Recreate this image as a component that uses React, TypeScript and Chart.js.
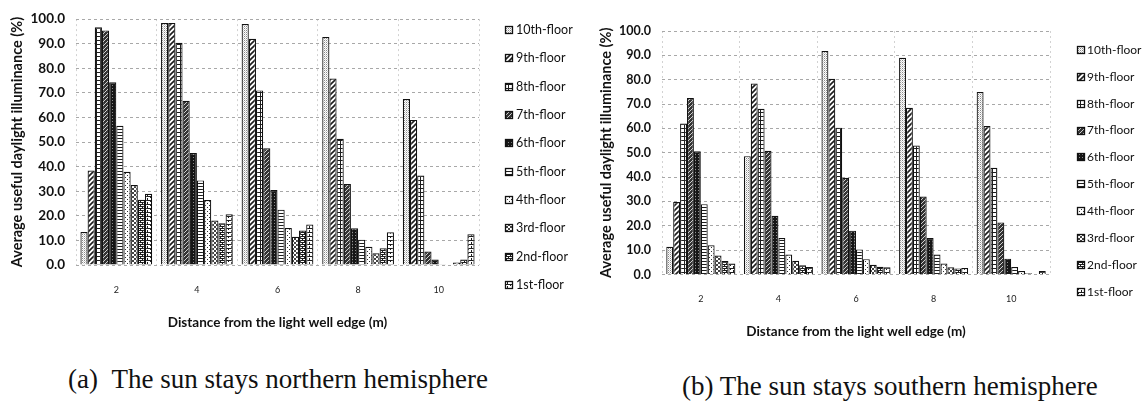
import React, { useEffect, useRef } from "react";
import { Chart, registerables } from "chart.js";

Chart.register(...registerables);

const distances = ["2", "4", "6", "8", "10"];
const floorLabels = [
  "10th-floor", "9th-floor", "8th-floor", "7th-floor", "6th-floor",
  "5th-floor", "4th-floor", "3rd-floor", "2nd-floor", "1st-floor",
];
const yAxisTitle = "Average useful daylight illuminance (%)";
const xAxisTitle = "Distance from the light well edge (m)";
const captionNorth = "(a)\u00a0\u00a0The sun stays northern hemisphere";
const captionSouth = "(b) The sun stays southern hemisphere";

// (a) northern hemisphere, per floor across distances 2,4,6,8,10 m
const north10th = [13.4, 98.4, 98, 92.7, 67.5];
const north9th = [38.4, 98.4, 92, 75.8, 59];
const north8th = [96.7, 90.4, 71, 51.3, 36.4];
const north7th = [95.4, 66.8, 47.5, 32.9, 5.5];
const north6th = [74.3, 45.5, 30.5, 14.9, 2.2];
const north5th = [56.6, 34.4, 22.5, 10.3, 0.3];
const north4th = [37.9, 26.4, 15, 7.4, 0.2];
const north3rd = [32.5, 18.1, 11.5, 4.8, 1];
const north2nd = [26.5, 17, 14, 6.8, 2.2];
const north1st = [29, 20.6, 16.5, 13.3, 12.5];

// (b) southern hemisphere
const south10th = [11.4, 48.6, 91.8, 89, 74.9];
const south9th = [29.8, 78.4, 80.4, 68.5, 61];
const south8th = [62, 68.1, 60.3, 53, 43.8];
const south7th = [72.5, 50.8, 39.7, 32, 21.4];
const south6th = [50.6, 24.1, 18, 15, 6.5];
const south5th = [28.9, 15, 10.3, 8.2, 3.1];
const south4th = [12, 8.2, 6.3, 4.5, 1.4];
const south3rd = [7.8, 5.6, 4, 3, 0.5];
const south2nd = [5.5, 3.8, 3.2, 2.5, 0.2];
const south1st = [4.5, 3.1, 3, 2.7, 1.4];

const northSeries = [north10th, north9th, north8th, north7th, north6th, north5th, north4th, north3rd, north2nd, north1st];
const southSeries = [south10th, south9th, south8th, south7th, south6th, south5th, south4th, south3rd, south2nd, south1st];

function makePattern(w: number, h: number, draw: (g: CanvasRenderingContext2D) => void) {
  const c = document.createElement("canvas");
  c.width = w;
  c.height = h;
  const g = c.getContext("2d")!;
  g.fillStyle = "#fff";
  g.fillRect(0, 0, w, h);
  g.fillStyle = "#1e1e1e";
  g.strokeStyle = "#1e1e1e";
  draw(g);
  return g.createPattern(c, "repeat");
}

function buildPatterns() {
  return [
    // 10th: light stipple
    makePattern(2, 2, (g) => {
      g.fillStyle = "#8a8a8a";
      g.fillRect(0, 0, 1, 1);
      g.fillStyle = "#d0d0d0";
      g.fillRect(1, 1, 1, 1);
    }),
    // 9th: diagonal hatch
    makePattern(5, 5, (g) => {
      g.lineWidth = 1.6;
      g.beginPath();
      g.moveTo(-1, 6); g.lineTo(6, -1);
      g.moveTo(-1, 1); g.lineTo(1, -1);
      g.moveTo(4, 6); g.lineTo(6, 4);
      g.stroke();
    }),
    // 8th: fine grid
    makePattern(4, 4, (g) => {
      g.fillRect(0, 0, 4, 1);
      g.fillRect(0, 0, 1, 4);
    }),
    // 7th: dark textured
    makePattern(4, 4, (g) => {
      g.fillStyle = "#333";
      g.fillRect(0, 0, 4, 4);
      g.fillStyle = "#cfcfcf";
      g.fillRect(0, 0, 1, 1);
      g.fillRect(2, 2, 1, 1);
      g.fillRect(1, 3, 1, 1);
      g.fillRect(3, 1, 1, 1);
    }),
    // 6th: very dark
    makePattern(3, 3, (g) => {
      g.fillStyle = "#161616";
      g.fillRect(0, 0, 3, 3);
      g.fillStyle = "#8a8a8a";
      g.fillRect(1, 1, 1, 1);
    }),
    // 5th: horizontal lines
    makePattern(4, 3, (g) => {
      g.fillRect(0, 0, 4, 1);
    }),
    // 4th: sparse dots
    makePattern(4, 4, (g) => {
      g.fillStyle = "#333";
      g.fillRect(1, 1, 1, 1);
      g.fillRect(3, 3, 1, 1);
    }),
    // 3rd: checker
    makePattern(4, 4, (g) => {
      g.fillStyle = "#444";
      g.fillRect(0, 0, 2, 2);
      g.fillRect(2, 2, 2, 2);
    }),
    // 2nd: small bricks
    makePattern(4, 4, (g) => {
      g.fillRect(0, 0, 4, 1);
      g.fillRect(0, 2, 4, 1);
      g.fillRect(0, 1, 1, 1);
      g.fillRect(2, 3, 1, 1);
    }),
    // 1st: bricks with dots
    makePattern(6, 4, (g) => {
      g.fillRect(0, 0, 6, 1);
      g.fillRect(0, 1, 1, 1);
      g.fillRect(3, 3, 1, 1);
      g.fillRect(3, 2, 1, 1);
    }),
  ];
}

const floorLegend = {
  id: "floorLegend",
  afterDraw(chart: any, _args: any, opts: any) {
    const ctx = chart.ctx as CanvasRenderingContext2D;
    ctx.save();
    ctx.font = `${opts.fontSize}px Lato`;
    ctx.textBaseline = "middle";
    ctx.textAlign = "left";
    chart.data.datasets.forEach((ds: any, i: number) => {
      const y = opts.top + i * opts.spacing;
      const by = Math.round(y - opts.box / 2);
      ctx.fillStyle = ds.backgroundColor;
      ctx.fillRect(opts.boxX, by, opts.box, opts.box);
      ctx.strokeStyle = "#111";
      ctx.lineWidth = 1.3;
      ctx.strokeRect(opts.boxX + 0.5, by + 0.5, opts.box - 1, opts.box - 1);
      ctx.fillStyle = "#111";
      ctx.fillText(ds.label, opts.textX, y);
    });
    ctx.restore();
  },
};

type PanelProps = {
  series: number[][];
  left: number;
  width: number;
  height: number;
  pad: { left: number; top: number; right: number };
  yWidth: number;
  xHeight: number;
  yTickPad: number;
  yTickSize: number;
  xTickPad: number;
  xTitlePad: number;
  legend: { top: number; spacing: number; boxX: number; textX: number; box: number; fontSize: number };
};

function BarPanel(p: PanelProps) {
  const ref = useRef<HTMLCanvasElement | null>(null);
  useEffect(() => {
    const patterns = buildPatterns();
    const chart = new Chart(ref.current!, {
      type: "bar",
      data: {
        labels: distances,
        datasets: floorLabels.map((label, i) => ({
          label,
          data: p.series[i],
          backgroundColor: patterns[i] as any,
          borderColor: "#111",
          borderWidth: 1.2,
          categoryPercentage: 0.89,
          barPercentage: 1,
        })),
      },
      options: {
        animation: false,
        responsive: false,
        layout: { padding: { left: p.pad.left, top: p.pad.top, right: p.pad.right, bottom: 0 } },
        plugins: {
          legend: { display: false },
          tooltip: { enabled: false },
          floorLegend: p.legend,
        } as any,
        scales: {
          x: {
            grid: { display: true, drawTicks: false, color: "#d2d2d2", lineWidth: 1 },
            border: { display: false, dash: [2, 3] },
            ticks: { padding: p.xTickPad, color: "#222", font: { family: "Lato", size: 9 } },
            title: {
              display: true,
              text: xAxisTitle,
              color: "#111",
              font: { family: "Lato", size: 13.5, weight: "bold" },
              padding: { top: 0, bottom: p.xTitlePad },
            },
            afterFit: (s: any) => {
              s.height = p.xHeight;
            },
          },
          y: {
            min: 0,
            max: 100,
            grid: { drawTicks: false, color: "#a8a8a8", lineWidth: 1 },
            border: { display: false, dash: [3, 3] },
            ticks: {
              stepSize: 10,
              padding: p.yTickPad,
              color: "#111",
              font: { family: "Lato", size: p.yTickSize, weight: "bold" },
              callback: (v: any) => Number(v).toFixed(1),
            },
            title: {
              display: true,
              text: yAxisTitle,
              color: "#111",
              font: { family: "Lato", size: 14.5, weight: "bold" },
              padding: 0,
            },
            afterFit: (s: any) => {
              s.width = p.yWidth;
            },
          },
        },
      },
      plugins: [floorLegend as any],
    });
    return () => chart.destroy();
  }, []);
  return (
    <canvas
      ref={ref}
      width={p.width}
      height={p.height}
      style={{ position: "absolute", left: p.left, top: 0, width: p.width, height: p.height }}
    />
  );
}

const captionStyle: React.CSSProperties = {
  position: "absolute",
  fontFamily: "'Liberation Serif', 'Times New Roman', serif",
  fontSize: 27,
  lineHeight: "28px",
  color: "#111",
  whiteSpace: "nowrap",
};

export default function App() {
  return (
    <div style={{ position: "absolute", left: 0, top: 0, width: 1148, height: 408, background: "#fff", overflow: "hidden" }}>
      <BarPanel
        series={northSeries}
        left={0}
        width={580}
        height={345}
        pad={{ left: 9, top: 16, right: 101 }}
        yWidth={67}
        xHeight={80}
        yTickPad={11}
        yTickSize={13.5}
        xTickPad={20}
        xTitlePad={14}
        legend={{ top: 30, spacing: 28.33, boxX: 505, textX: 516, box: 8, fontSize: 12.5 }}
      />
      <BarPanel
        series={southSeries}
        left={580}
        width={568}
        height={350}
        pad={{ left: 18, top: 31, right: 98 }}
        yWidth={64}
        xHeight={75.5}
        yTickPad={11}
        yTickSize={12.5}
        xTickPad={19.5}
        xTitlePad={10}
        legend={{ top: 50, spacing: 26.85, boxX: 497, textX: 507, box: 8, fontSize: 12 }}
      />
      <div style={{ ...captionStyle, left: 68, top: 365 }}>{captionNorth}</div>
      <div style={{ ...captionStyle, left: 682, top: 372 }}>{captionSouth}</div>
    </div>
  );
}
